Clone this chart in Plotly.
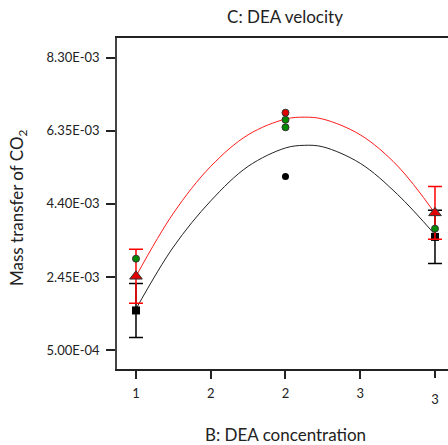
import plotly.graph_objects as go

# ---- data ----
red_tri_x = [1, 3]
red_tri_y = [2.47e-3, 4.16e-3]
red_tri_err = [7.2e-4, 7.0e-4]
black_sq_x = [1, 3]
black_sq_y = [1.56e-3, 3.52e-3]
black_sq_err = [7.2e-4, 7.1e-4]
green_x = [1, 2, 2, 3]
green_y = [2.94e-3, 6.64e-3, 6.44e-3, 3.74e-3]
red_pt_x = [2]
red_pt_y = [6.83e-3]
black_pt_x = [2]
black_pt_y = [5.13e-3]
curve_x = [1, 1.25, 1.5, 1.75, 2, 2.125, 2.25, 2.5, 2.75, 3]
red_curve = [2.47e-3, 4.15e-3, 5.40e-3, 6.24e-3, 6.66e-3, 6.71e-3, 6.66e-3, 6.24e-3, 5.41e-3, 4.15e-3]
black_curve = [1.60e-3, 3.25e-3, 4.48e-3, 5.40e-3, 5.89e-3, 5.96e-3, 5.92e-3, 5.48e-3, 4.65e-3, 3.58e-3]

y_tickvals = [5.0e-4, 2.45e-3, 4.40e-3, 6.35e-3, 8.30e-3]
y_ticktext = ["5.00E-04", "2.45E-03", "4.40E-03", "6.35E-03", "8.30E-03"]
x_tickvals = [1, 1.5, 2, 2.5]
x_ticktext = ["1", "2", "2", "3"]
x_last_tickval = [3]
x_last_ticktext = ["3"]

FONT = "Lato"
TXT = "#222222"
X_RANGE = [0.873, 3.087]
fig = go.Figure()

fig.add_trace(go.Scatter(x=curve_x, y=black_curve, mode="lines",
                         line=dict(color="#222222", width=1, shape="spline"), hoverinfo="skip"))
fig.add_trace(go.Scatter(x=curve_x, y=red_curve, mode="lines",
                         line=dict(color="#ff1a1a", width=1, shape="spline"), hoverinfo="skip"))
fig.add_trace(go.Scatter(x=black_sq_x, y=black_sq_y, mode="markers",
                         marker=dict(symbol="square", size=8, color="black"),
                         error_y=dict(type="data", array=black_sq_err, color="black", thickness=1.5, width=7)))
fig.add_trace(go.Scatter(x=red_tri_x, y=red_tri_y, mode="markers",
                         marker=dict(symbol="triangle-up", size=11, color="#e00000",
                                     line=dict(color="#333333", width=1)),
                         error_y=dict(type="data", array=red_tri_err, color="#ff0000", thickness=1.5, width=7)))
fig.add_trace(go.Scatter(x=black_pt_x, y=black_pt_y, mode="markers",
                         marker=dict(symbol="circle", size=7, color="black")))
fig.add_trace(go.Scatter(x=green_x, y=green_y, mode="markers",
                         marker=dict(symbol="circle", size=7, color="#008a00",
                                     line=dict(color="#333333", width=1))))
fig.add_trace(go.Scatter(x=red_pt_x, y=red_pt_y, mode="markers",
                         marker=dict(symbol="circle", size=7, color="#e00000",
                                     line=dict(color="#333333", width=1))))
# invisible trace to activate the overlay axis carrying the last (offset) tick label
fig.add_trace(go.Scatter(x=[None], y=[None], xaxis="x2", yaxis="y", mode="markers",
                         showlegend=False, hoverinfo="skip"))

fig.update_layout(
    width=448, height=445,
    margin=dict(l=117, r=0, t=38, b=76),
    paper_bgcolor="white", plot_bgcolor="white",
    showlegend=False,
    font=dict(family=FONT, size=13, color=TXT),
    title=dict(text="C: DEA velocity", x=(285 - 117) / 331, xref="paper", xanchor="center",
               y=1 - 17 / 445, yanchor="middle", font=dict(size=17, family=FONT, color=TXT)),
    xaxis=dict(range=X_RANGE, tickvals=x_tickvals, ticktext=x_ticktext,
               showgrid=False, zeroline=False, showline=True, linecolor="#222222", linewidth=1.5,
               mirror=True, ticks="outside", ticklen=8, tickcolor="#222222", tickwidth=1.5,
               ticklabelstandoff=4, tickfont=dict(size=13, family=FONT)),
    xaxis2=dict(range=X_RANGE, overlaying="x", side="bottom", tickvals=x_last_tickval,
                ticktext=x_last_ticktext, showgrid=False, zeroline=False, showline=False,
                ticks="outside", ticklen=8, tickcolor="#222222", tickwidth=1.5,
                ticklabelstandoff=10, tickfont=dict(size=13, family=FONT)),
    yaxis=dict(range=[0, 8.82e-3], tickvals=y_tickvals, ticktext=y_ticktext,
               showgrid=False, zeroline=False, showline=True, linecolor="#444444", linewidth=1.5,
               ticks="outside", ticklen=9, tickcolor="#222222", tickwidth=1.5,
               ticklabelstandoff=4, tickfont=dict(size=13, family=FONT)),
    annotations=[
        dict(text="B: DEA concentration", x=(285 - 117) / 331, y=(369 - 435) / 331,
             xref="paper", yref="paper", showarrow=False, xanchor="center", yanchor="middle",
             font=dict(size=17, family=FONT)),
        dict(text="Mass transfer of CO<sub>2</sub>", x=(18 - 117) / 331, y=(369 - 208) / 331,
             xref="paper", yref="paper", showarrow=False, textangle=-90,
             xanchor="center", yanchor="middle", font=dict(size=17, family=FONT)),
    ],
)

fig.write_html("out.html")
